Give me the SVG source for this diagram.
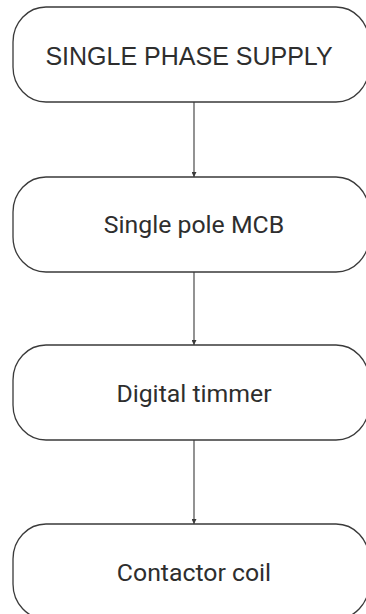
<svg xmlns="http://www.w3.org/2000/svg" width="366" height="614" viewBox="0 0 366 614">
<defs>
<style>
.box{fill:#ffffff;stroke:#3a3a3a;stroke-width:1.3}
.lbl{font-family:"Liberation Sans",Arial,sans-serif;fill:#2e2e2e;text-anchor:middle}
.lbl2{font-family:Roboto,"Liberation Sans",sans-serif;fill:#2e2e2e;text-anchor:middle}
.edge{stroke:#3a3a3a;stroke-width:1.1;fill:none;marker-end:url(#ah)}
</style>
<marker id="ah" viewBox="0 0 6 6" refX="6" refY="3" markerWidth="5" markerHeight="5" markerUnits="userSpaceOnUse" orient="auto">
<path d="M0,0 L6,3 L0,6 z" fill="#3a3a3a"/>
</marker>
</defs>
<rect width="366" height="614" fill="#ffffff"/>
<g id="connectors">
<line class="edge" x1="194" y1="102" x2="194" y2="177"/>
<line class="edge" x1="194" y1="272" x2="194" y2="345"/>
<line class="edge" x1="194" y1="440" x2="194" y2="524"/>
</g>
<g id="n1">
<rect class="box" x="13" y="7" width="356" height="95" rx="33" ry="35"/>
<text class="lbl" x="189" y="65" font-size="25">SINGLE PHASE SUPPLY</text>
</g>
<g id="n2">
<rect class="box" x="13" y="177" width="356" height="95" rx="33" ry="35"/>
<text class="lbl2" x="194" y="233" font-size="24.8">Single pole MCB</text>
</g>
<g id="n3">
<rect class="box" x="13" y="345" width="356" height="95" rx="33" ry="35"/>
<text class="lbl2" x="194" y="402" font-size="24.8">Digital timmer</text>
</g>
<g id="n4">
<rect class="box" x="13" y="524" width="356" height="95" rx="33" ry="35"/>
<text class="lbl2" x="194" y="581" font-size="24.8">Contactor coil</text>
</g>
</svg>
